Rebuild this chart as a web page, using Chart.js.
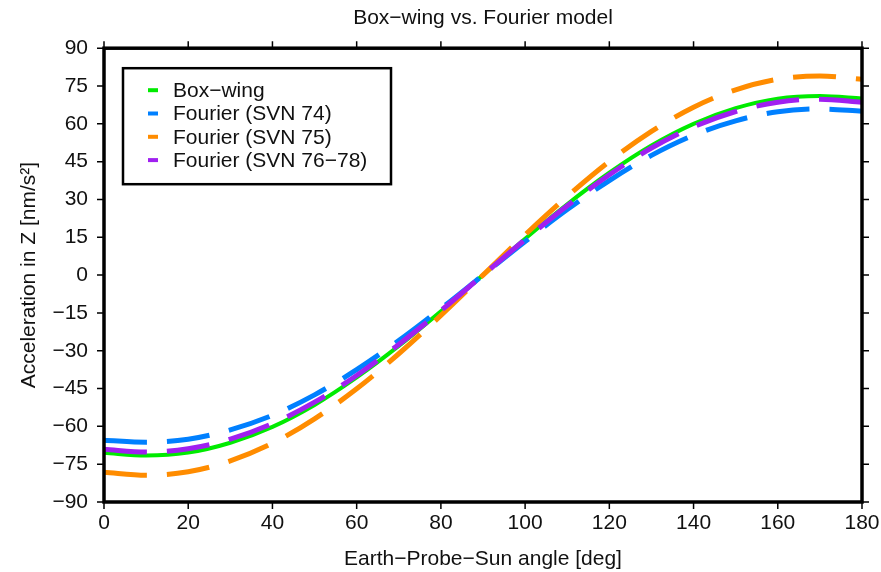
<!DOCTYPE html>
<html><head><meta charset="utf-8">
<script src="https://cdn.jsdelivr.net/npm/chart.js@4/dist/chart.umd.min.js"></script>
<style>html,body{margin:0;padding:0;background:#fff;}</style>
</head><body>
<canvas id="c" width="881" height="572"></canvas>
<script>
const angles   = [0,10,20,30,40,50,60,70,80,90,100,110,120,130,140,150,160,170,180];
const boxWing  = [-70.5,-71.6,-70.4,-66.5,-60.2,-51.5,-40.6,-28.1,-14.4,0,14.4,28.1,40.6,51.4,60.0,66.2,70.0,71.0,70.0];
const svn74    = [-65.5,-66.3,-65.1,-61.4,-55.6,-47.5,-37.5,-26.0,-13.3,0,13.3,26.0,37.5,47.5,55.5,61.2,64.8,65.9,65.0];
const svn75    = [-78.2,-79.4,-78.0,-73.7,-66.7,-57.0,-45.1,-31.2,-16.0,0,16.0,31.2,45.1,57.0,66.6,73.5,77.7,79.0,77.7];
const svn7678  = [-69.1,-70.2,-68.9,-65.1,-58.9,-50.4,-39.8,-27.5,-14.1,0,14.1,27.5,39.8,50.4,58.8,64.9,68.6,69.8,68.6];
const xTicks   = [0,20,40,60,80,100,120,140,160,180];
const yTicks   = [-90,-75,-60,-45,-30,-15,0,15,30,45,60,75,90];
const seriesLabels = ['Box−wing','Fourier (SVN 74)','Fourier (SVN 75)','Fourier (SVN 76−78)'];
const seriesColors = ['rgb(0,235,0)','rgb(0,128,255)','rgb(255,140,0)','rgb(160,32,240)'];

const FONT = "'Liberation Sans', Arial, sans-serif";
const pts = arr => angles.map((a,i)=>({x:a,y:arr[i]}));
const fmt = v => String(v).replace('-', '\u2212');

const framePlugin = {
  id: 'frame',
  afterDatasetsDraw(chart) {
    const {ctx, chartArea:{left,right,top,bottom}} = chart;
    const xs = chart.scales.x, ys = chart.scales.y;
    ctx.save();
    ctx.strokeStyle = '#000';
    ctx.lineWidth = 1.5;
    ctx.beginPath();
    xTicks.forEach(v => { const p = xs.getPixelForValue(v);
      ctx.moveTo(p, top); ctx.lineTo(p, top-7);
      ctx.moveTo(p, bottom); ctx.lineTo(p, bottom+7); });
    yTicks.forEach(v => { const p = ys.getPixelForValue(v);
      ctx.moveTo(left, p); ctx.lineTo(left-7, p);
      ctx.moveTo(right, p); ctx.lineTo(right+7, p); });
    ctx.stroke();
    ctx.lineWidth = 3.5;
    ctx.strokeRect(left, top, right-left, bottom-top);
    // legend
    const bx = left + 19, by = top + 20, bw = 268, bh = 116;
    ctx.fillStyle = '#fff';
    ctx.fillRect(bx, by, bw, bh);
    ctx.lineWidth = 2.5;
    ctx.strokeRect(bx, by, bw, bh);
    ctx.font = '21px ' + FONT;
    ctx.textBaseline = 'middle';
    ctx.textAlign = 'left';
    seriesLabels.forEach((lab, i) => {
      const y = by + 22 + i*23.3;
      ctx.strokeStyle = seriesColors[i];
      ctx.lineWidth = 4;
      ctx.beginPath(); ctx.moveTo(bx+25, y); ctx.lineTo(bx+35, y); ctx.stroke();
      ctx.fillStyle = '#111';
      ctx.fillText(lab, bx+50, y+1);
    });
    ctx.restore();
  }
};

const mk = (label, data, color, width, dash, order) => ({
  label, data: pts(data), borderColor: color, backgroundColor: color,
  borderWidth: width, borderDash: dash, borderCapStyle: 'butt',
  pointRadius: 0, fill: false, cubicInterpolationMode: 'monotone', order
});

new Chart(document.getElementById('c'), {
  type: 'line',
  data: { datasets: [
    mk(seriesLabels[0], boxWing, seriesColors[0], 4, [], 4),
    mk(seriesLabels[1], svn74,   seriesColors[1], 5, [43,20], 3),
    mk(seriesLabels[2], svn75,   seriesColors[2], 5, [43,20], 2),
    mk(seriesLabels[3], svn7678, seriesColors[3], 5, [43,20], 1)
  ]},
  options: {
    responsive: false, animation: false,
    layout: { padding: { left: 0, right: 19, top: 0, bottom: 0 } },
    plugins: {
      legend: { display: false }, tooltip: { enabled: false },
      title: { display: true, fullSize: false, text: 'Box−wing vs. Fourier model', color: '#111',
               font: { family: FONT, size: 21, weight: 'normal' }, padding: { top: 6, bottom: 17 } }
    },
    scales: {
      x: { type: 'linear', min: 0, max: 180,
           afterFit: s => { s.height = 70; },
           grid: { display: false }, border: { display: false },
           ticks: { stepSize: 20, padding: 1, color: '#111', maxRotation: 0,
                    font: { family: FONT, size: 21 }, callback: v => fmt(v) },
           title: { display: true, text: 'Earth−Probe−Sun angle [deg]', color: '#111',
                    font: { family: FONT, size: 21 }, padding: { top: 0, bottom: 0 } } },
      y: { type: 'linear', min: -90, max: 90,
           afterFit: s => { s.width = 104; },
           grid: { display: false }, border: { display: false },
           ticks: { stepSize: 15, padding: 8, color: '#111',
                    font: { family: FONT, size: 21 }, callback: v => fmt(v) },
           title: { display: true, text: 'Acceleration in Z [nm/s²]', color: '#111',
                    font: { family: FONT, size: 21 }, padding: { top: 17, bottom: 0 } } }
    }
  },
  plugins: [framePlugin]
});
</script>
</body></html>
